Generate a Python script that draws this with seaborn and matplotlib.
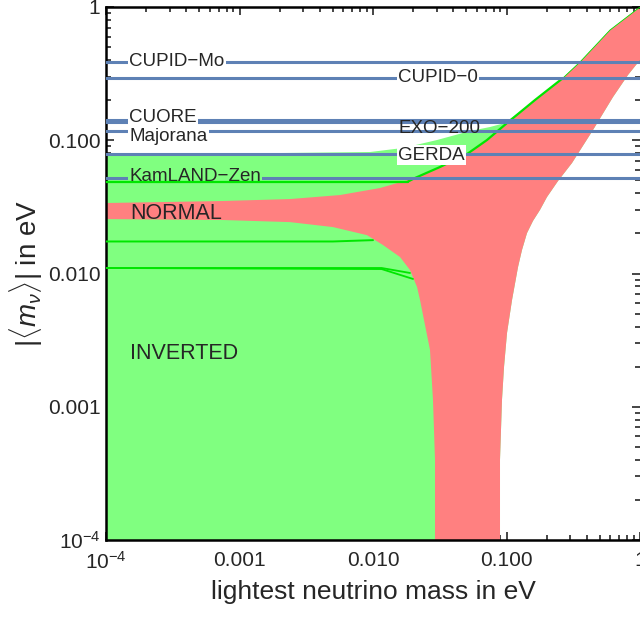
import numpy as np
import matplotlib
matplotlib.use("Agg")
import matplotlib.pyplot as plt
import matplotlib.ticker as mticker
import seaborn as sns

# --- values (lightest mass in eV, |<m>| in eV) ---
# upper edge of the red band, left to right
red_top_x = [1e-4, 7.52e-4, 2.39e-3, 5.66e-3, 0.01128, 0.02064, 0.03176, 0.0506, 0.0714, 0.1009, 0.1635, 0.2650, 0.3553, 0.5962, 1.0]
red_top_y = [0.0338, 0.0350, 0.0362, 0.0388, 0.0438, 0.0521, 0.0630, 0.0788, 0.1004, 0.1347, 0.2005, 0.2933, 0.3866, 0.672, 1.0]
# right edge of the red band, top to bottom
red_right_x = [1.0, 0.8129, 0.6281, 0.4445, 0.3095, 0.2430, 0.2011, 0.1782, 0.1579, 0.1424, 0.1306, 0.1220, 0.1100, 0.1009, 0.0958, 0.0925, 0.0894, 0.0894]
red_right_y = [0.4002, 0.3088, 0.2112, 0.1194, 0.0675, 0.0494, 0.0375, 0.0300, 0.0248, 0.0201, 0.0150, 0.01119, 0.00633, 0.00358, 0.00199, 0.001124, 4.0e-4, 1e-4]
# lower / left edge of the red band, bottom to left
red_low_x = [0.02914, 0.02914, 0.02814, 0.02673, 0.02410, 0.02250, 0.02137, 0.01893, 0.01593, 0.01188, 9.02e-3, 5.02e-3, 2.39e-3, 7.52e-4, 1e-4]
red_low_y = [1e-4, 4.0e-4, 1.124e-3, 2.67e-3, 4.48e-3, 6.33e-3, 7.92e-3, 0.01062, 0.01330, 0.01636, 0.0194, 0.0223, 0.0243, 0.0252, 0.0256]
# upper edge of the green region until it meets the red band
green_top_x = [1e-4, 9.5e-3, 0.01678, 0.03016, 0.0533, 0.0752, 0.0974]
green_top_y = [0.0775, 0.0816, 0.0875, 0.1004, 0.1173, 0.1257, 0.1347]

# bright green contour lines
edge_flat_x = [1e-4, 0.0183]
edge_flat_y = [0.0490, 0.0490]
edge_rise_x = [0.0183, 0.02064, 0.03176, 0.0506, 0.0714, 0.1009, 0.1635, 0.2650]
edge_rise_y = [0.0490, 0.0521, 0.0630, 0.0788, 0.1004, 0.1347, 0.2005, 0.2933]
edge_thin_x = [0.2650, 0.3553, 0.5962, 1.0]
edge_thin_y = [0.2933, 0.3866, 0.672, 1.0]
mid_x = [1e-4, 5e-3, 0.0100]
mid_y = [0.01739, 0.01739, 0.0178]
low_a_x = [1e-4, 0.0116, 0.01893]
low_a_y = [0.0110, 0.0110, 0.01009]
low_b_x = [1e-4, 0.0116, 0.01994]
low_b_y = [0.0110, 0.0108, 0.00910]

# experimental limits
experiments = ["CUPID\u2212Mo", "CUPID\u22120", "CUORE", "EXO\u2212200", "Majorana", "GERDA", "KamLAND\u2212Zen"]
limits = [0.387, 0.293, 0.142, 0.137, 0.117, 0.0788, 0.0521]
label_x = [1.49e-4, 0.0154, 1.49e-4, 0.0154, 1.49e-4, 0.0154, 1.49e-4]
label_y = [0.387, 0.298, 0.147, 0.1235, 0.1058, 0.0775, 0.0539]

xticks = [1e-4, 1e-3, 1e-2, 1e-1, 1]
tick_labels = [r"$10^{-4}$", "0.001", "0.010", "0.100", "1"]

GREEN = "#80ff80"
RED = "#ff8080"
LINE = "#00e600"
BLUE = "#5e81b5"

sns.set_style("ticks")
plt.rcParams["font.family"] = ["Liberation Sans", "DejaVu Sans"]
plt.rcParams["mathtext.fontset"] = "custom"
plt.rcParams["mathtext.rm"] = "Liberation Sans"
plt.rcParams["mathtext.it"] = "Liberation Sans:italic"

fig = plt.figure(figsize=(6.4, 6.17), dpi=100)
ax = fig.add_axes([106 / 640, 77 / 617, 534 / 640, 533 / 617])
ax.set_xscale("log")
ax.set_yscale("log")

# green region: its own top edge, then the outer red boundary
gx = green_top_x + red_top_x[10:] + red_right_x + [1e-4]
gy = green_top_y + red_top_y[10:] + red_right_y + [1e-4]
ax.fill(gx, gy, color=GREEN, lw=0, zorder=1)

rx = red_top_x + red_right_x + red_low_x
ry = red_top_y + red_right_y + red_low_y
ax.fill(rx, ry, color=RED, lw=0, zorder=2)

for xs, ys, w in [(edge_rise_x, edge_rise_y, 1.6), (edge_thin_x, edge_thin_y, 0.6),
                  (mid_x, mid_y, 1.4), (low_a_x, low_a_y, 1.3), (low_b_x, low_b_y, 1.3)]:
    sns.lineplot(x=xs, y=ys, sort=False, estimator=None, color=LINE, lw=w, ax=ax, zorder=3)
sns.lineplot(x=edge_flat_x, y=edge_flat_y, sort=False, estimator=None, color=LINE, lw=1.6, ax=ax, zorder=7)

for lim in limits:
    ax.axhline(lim, color=BLUE, lw=2.2, zorder=4)

boxes = {"CUPID\u2212Mo": "white", "CUPID\u22120": "white", "CUORE": "white",
         "Majorana": "white", "GERDA": "white", "KamLAND\u2212Zen": GREEN}
for name, x, y in zip(experiments, label_x, label_y):
    kw = {}
    if name in boxes:
        kw["bbox"] = dict(facecolor=boxes[name], edgecolor="none", pad=1.0)
    ax.text(x, y, name, fontsize=13.5, va="center", ha="left", zorder=6, **kw)

ax.text(1.51e-4, 0.0284, "NORMAL", fontsize=15.5, va="center", ha="left", zorder=6)
ax.text(1.51e-4, 2.49e-3, "INVERTED", fontsize=15.5, va="center", ha="left", zorder=6)

ax.set_xlim(1e-4, 1)
ax.set_ylim(1e-4, 1)
ax.set_xticks(xticks)
ax.set_xticklabels(tick_labels)
ax.set_yticks(xticks)
ax.set_yticklabels(tick_labels)
for axis in (ax.xaxis, ax.yaxis):
    axis.set_minor_locator(mticker.LogLocator(base=10, subs=np.arange(2, 10), numticks=20))
    axis.set_minor_formatter(mticker.NullFormatter())

ax.tick_params(which="both", direction="in", top=True, right=True, width=1.2, labelsize=15, pad=4)
ax.tick_params(axis="x", which="major", pad=8)
ax.tick_params(which="major", length=6)
ax.tick_params(which="minor", length=3.5)
for side in ["left", "bottom", "top"]:
    ax.spines[side].set_linewidth(1.8)
    ax.spines[side].set_color("black")
ax.spines["right"].set_visible(False)

ax.set_xlabel("lightest neutrino mass in eV", fontsize=19, labelpad=5)
ax.set_ylabel(r"$|\langle m_{\nu}\rangle|$ in eV", fontsize=20, labelpad=2)

fig.savefig("out.png", dpi=100)
